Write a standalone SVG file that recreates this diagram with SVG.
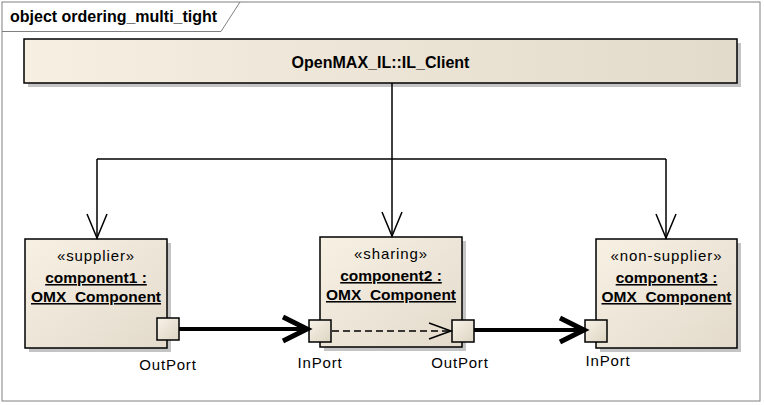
<svg xmlns="http://www.w3.org/2000/svg" width="764" height="405" viewBox="0 0 764 405">
<style>
text{font-family:"Liberation Sans",Arial,sans-serif;fill:#000}
.title{font-size:16px;font-weight:bold}
.hdr{font-size:16px;font-weight:bold}
.st{font-size:15px;letter-spacing:0.9px}
.nm{font-size:15.5px;font-weight:bold;text-decoration:underline}
.lbl{font-size:15px;letter-spacing:0.8px}
.box{stroke:#000;stroke-width:1.5}
.shadow{fill:#c4c4c4}
.port{fill:url(#pg);stroke:#000;stroke-width:1.5}
.thin{fill:none;stroke:#000;stroke-width:1.5}
.thick{fill:none;stroke:#000;stroke-width:4}
.head{fill:none;stroke:#000;stroke-width:5;stroke-linejoin:miter}
.dash{fill:none;stroke:#000;stroke-width:1.5;stroke-dasharray:7,4}
</style>
<defs>
<linearGradient id="hg" x1="0" y1="0" x2="1" y2="0">
<stop offset="0" stop-color="#f6efe2"/>
<stop offset="1" stop-color="#e2dbcb"/>
</linearGradient>
<linearGradient id="cg" x1="0" y1="0" x2="1" y2="1">
<stop offset="0" stop-color="#f7f1e4"/>
<stop offset="1" stop-color="#e3dacb"/>
</linearGradient>
<linearGradient id="pg" x1="0" y1="0" x2="1" y2="1">
<stop offset="0" stop-color="#f8f3e8"/>
<stop offset="1" stop-color="#ddd4c2"/>
</linearGradient>
</defs>

<g id="frame">
<rect x="2" y="2" width="758" height="399" fill="#fff" stroke="#808080" stroke-width="1"/>
<path d="M2,31.5 H221 L240,2" fill="none" stroke="#808080" stroke-width="1"/>
<text class="title" x="10" y="22">object ordering_multi_tight</text>
</g>

<g id="il_client">
<rect class="shadow" x="28" y="43" width="713" height="44"/>
<rect class="box" x="24" y="39" width="713" height="44" fill="url(#hg)"/>
<text class="hdr" x="380.5" y="68" text-anchor="middle">OpenMAX_IL::IL_Client</text>
</g>

<g id="component1">
<rect class="shadow" x="29" y="243" width="142" height="109"/>
<rect class="box" x="25" y="239" width="142" height="109" fill="url(#cg)"/>
<text class="st" x="96" y="261" text-anchor="middle">«supplier»</text>
<text class="nm" x="96" y="283" text-anchor="middle">component1 :</text>
<text class="nm" x="96" y="302" text-anchor="middle">OMX_Component</text>
<rect class="port" x="157" y="318" width="22" height="22"/>
<text class="lbl" x="168" y="370" text-anchor="middle">OutPort</text>
</g>

<g id="component2">
<rect class="shadow" x="324" y="241" width="142" height="110"/>
<rect class="box" x="320" y="237" width="142" height="110" fill="url(#cg)"/>
<text class="st" x="391" y="259" text-anchor="middle">«sharing»</text>
<text class="nm" x="391" y="281" text-anchor="middle">component2 :</text>
<text class="nm" x="391" y="300" text-anchor="middle">OMX_Component</text>
<rect class="port" x="309" y="320" width="22" height="22"/>
<rect class="port" x="452" y="320" width="22" height="22"/>
<text class="lbl" x="320" y="368" text-anchor="middle">InPort</text>
<text class="lbl" x="460" y="368" text-anchor="middle">OutPort</text>
</g>

<g id="component3">
<rect class="shadow" x="600" y="243" width="141" height="109"/>
<rect class="box" x="596" y="239" width="141" height="109" fill="url(#cg)"/>
<text class="st" x="666.5" y="261" text-anchor="middle">«non-supplier»</text>
<text class="nm" x="666.5" y="283" text-anchor="middle">component3 :</text>
<text class="nm" x="666.5" y="302" text-anchor="middle">OMX_Component</text>
<rect class="port" x="585" y="320" width="22" height="22"/>
<text class="lbl" x="608" y="366" text-anchor="middle">InPort</text>
</g>

<g id="connectors">
<path class="thin" d="M392,83 V237"/>
<path class="thin" d="M97,159 H666"/>
<path class="thin" d="M97,159 V239"/>
<path class="thin" d="M666,159 V239"/>
<path class="thin" d="M87,214 L97,238 L107,214"/>
<path class="thin" d="M382,212 L392,236 L402,212"/>
<path class="thin" d="M656,214 L666,238 L676,214"/>
<path class="thick" d="M179,329 H306"/>
<path class="head" d="M283,317 L307,329 L283,341"/>
<path class="thick" d="M474,330 H583"/>
<path class="head" d="M560,318 L584,330 L560,342"/>
<path class="dash" d="M332,331 H451"/>
<path class="thin" d="M429,323 L451,331 L429,339"/>
</g>
</svg>
